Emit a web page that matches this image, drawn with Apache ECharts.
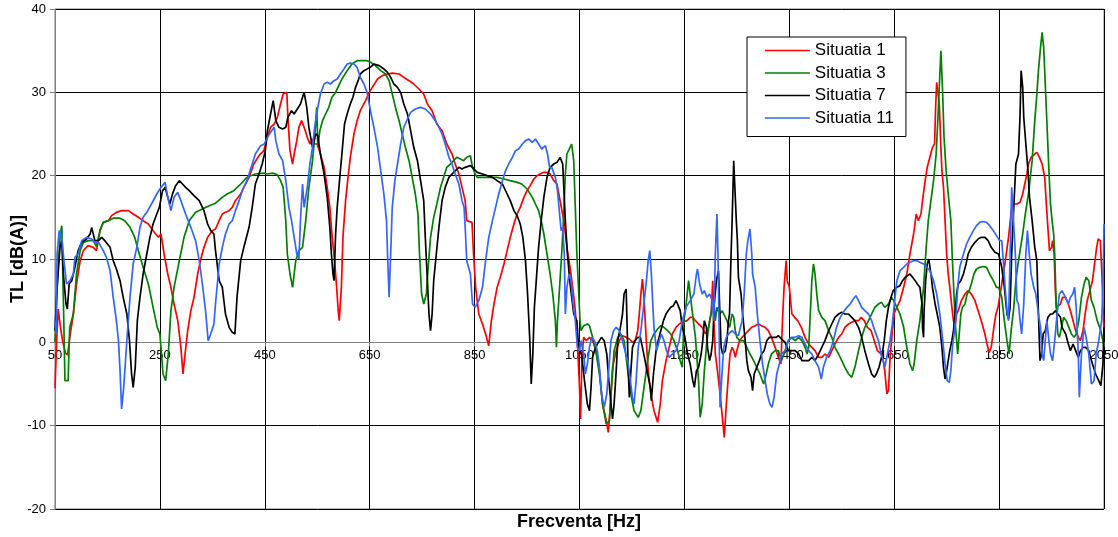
<!DOCTYPE html>
<html>
<head>
<meta charset="utf-8">
<script src="https://cdn.jsdelivr.net/npm/echarts@6/dist/echarts.min.js"></script>
<style>
  html, body { margin: 0; padding: 0; background: #fff; }
  #chart { width: 1118px; height: 537px; }
</style>
</head>
<body>
<div id="chart"></div>
<script>
// axa X: frecventa [Hz], axa Y: TL [dB(A)]
const xMin = 50, xMax = 2050, xStep = 200
const yMin = -20, yMax = 40, yStep = 10

const seriesNames = ['Situatia 1', 'Situatia 3', 'Situatia 7', 'Situatia 11']
const seriesColors = ['#ff0000', '#008000', '#000000', '#3366ff']

// [frecventa, TL]
const situatia1 = [[50,-5.5],[53,0],[56,4],[60,2],[65,0],[70,-1.3],[74,-1.5],[78,0.5],[85,3.4],[91,7],[98,9.8],[104,11],[113,11.6],[123,11.4],[129,11],[136,13.4],[142,14.4],[152,14.6],[158,15.2],[167,15.6],[177,15.8],[190,15.8],[199,15.4],[209,15],[218,14.6],[228,14.2],[237,13.4],[247,12.6],[252,13],[258,10.6],[265,8.2],[271,6.6],[277,4.6],[284,2.6],[290,-0.6],[294,-3.8],[298,-1.4],[303,1.4],[309,3.8],[315,5.4],[322,8.2],[328,10],[334,11.4],[341,12.6],[350,13.4],[356,13.6],[363,14.6],[369,15.4],[375,15.6],[382,15.8],[388,16.2],[394,17],[404,17.8],[410,18.6],[420,19.8],[429,21.4],[439,22.4],[448,23],[455,24.6],[461,25.8],[468,26.2],[474,27],[480,28.6],[485,29.8],[492,30],[494,27],[498,23],[503,21.4],[506,22.6],[511,24.2],[515,25.8],[520,26.6],[525,25.8],[531,24.6],[536,23.8],[541,24.4],[545,23.8],[550,23.8],[556,22.6],[563,21],[569,18.6],[574,16.2],[578,13],[583,9.8],[587,6.6],[590,3.8],[592,2.6],[596,6.6],[599,12.6],[604,17],[608,19.4],[613,22.2],[620,25],[626,26.6],[632,27.8],[642,29],[651,30.2],[655,30.6],[665,31.6],[674,32],[684,32.2],[693,32.3],[706,32.2],[715,31.8],[725,31.4],[734,31],[744,30.4],[753,29.8],[760,28.6],[769,27.8],[778,26.2],[788,25.4],[797,23.8],[807,22.6],[813,21.4],[820,20.2],[826,18.6],[832,17],[835,14.6],[845,14.4],[848,10.6],[852,6.6],[858,3.4],[865,2.2],[871,1],[877,-0.4],[882,2.6],[887,4.6],[893,6.6],[899,7.8],[906,9.4],[912,11],[918,12.6],[925,14.2],[931,15.4],[937,16.2],[944,17.4],[950,18.2],[956,18.8],[963,19.6],[969,20],[975,20.2],[982,20.4],[988,20.4],[994,20.2],[1001,19.4],[1007,19],[1013,17],[1020,14.6],[1026,11.4],[1032,9],[1037,6.6],[1042,3.8],[1046,0.2],[1050,-5.4],[1052,-9.2],[1055,-1.4],[1058,0.6],[1063,0.2],[1069,0.6],[1075,0.2],[1082,-1],[1088,-3.4],[1094,-7.4],[1101,-9.4],[1105,-10.8],[1109,-7.4],[1113,-3],[1120,-1],[1126,0.2],[1132,0.8],[1139,0.6],[1145,0.4],[1151,0],[1156,0.2],[1161,1.4],[1164,3.4],[1167,5.8],[1170,7.6],[1173,5.4],[1177,0.6],[1181,-3.4],[1186,-6.2],[1192,-8.2],[1199,-9.6],[1204,-7.4],[1208,-4.6],[1215,-2.2],[1221,-0.6],[1227,1],[1234,1.8],[1240,2.2],[1246,2.4],[1255,2.6],[1261,3],[1266,3],[1271,2.6],[1277,2.2],[1284,1.8],[1290,1],[1296,1.8],[1301,3.4],[1304,7.4],[1306,2.6],[1309,-1.4],[1313,-3.4],[1318,-6.2],[1323,-9.4],[1326,-11.4],[1330,-7.4],[1334,-3.8],[1337,-1.4],[1341,-0.6],[1344,-1],[1347,-1.8],[1350,-1],[1355,0.2],[1360,0.6],[1366,1],[1372,1.4],[1378,1.8],[1385,2],[1391,2.2],[1397,2],[1404,1.8],[1410,1.4],[1416,0.6],[1423,-0.6],[1429,-1.8],[1434,-2.6],[1437,2.6],[1440,6.6],[1444,9.8],[1446,7.4],[1450,6.6],[1455,3.4],[1460,3],[1466,2.6],[1473,1.8],[1480,0.6],[1487,-0.2],[1493,-0.6],[1499,-1],[1506,-1.8],[1512,-1.8],[1518,-1.4],[1525,-1.8],[1531,-1],[1537,-0.2],[1544,0.6],[1550,1],[1556,1.8],[1563,2.2],[1569,2.4],[1575,2.6],[1582,2.6],[1587,3],[1593,2.6],[1599,1.8],[1606,1.4],[1612,0.2],[1618,-1],[1625,-1.4],[1629,-2.2],[1632,-3.4],[1636,-6.2],[1639,-5.8],[1642,-2],[1646,1],[1650,3.5],[1655,4.2],[1661,5],[1668,6.6],[1674,8.2],[1680,10.6],[1687,13],[1692,15.4],[1696,14.6],[1701,15.4],[1704,17],[1709,19.4],[1713,21],[1718,22.2],[1723,23.4],[1727,23.8],[1729,28.2],[1731,31.2],[1734,31.4],[1736,28.6],[1739,23.4],[1741,20.6],[1744,18.6],[1747,14.6],[1750,10.6],[1753,8.2],[1756,6.6],[1760,4.2],[1763,2.6],[1766,1.8],[1769,3.4],[1772,3.8],[1778,5],[1785,5.8],[1791,6.2],[1797,5.8],[1804,5],[1810,3.8],[1816,2.6],[1823,1],[1827,-0.2],[1831,-1.2],[1835,-0.6],[1840,1.8],[1844,3.4],[1848,4.2],[1855,7],[1861,9.4],[1868,12.6],[1874,16.2],[1878,16.6],[1884,16.6],[1890,16.8],[1895,17.8],[1899,19],[1903,20.2],[1906,21.4],[1911,22.2],[1918,22.6],[1922,22.8],[1927,22.2],[1932,21.4],[1937,19.8],[1940,16.6],[1943,13.8],[1946,11],[1950,11.4],[1952,12.2],[1955,10.6],[1957,6.6],[1959,4.2],[1962,4.2],[1967,4.6],[1971,5.4],[1977,5.4],[1982,4.6],[1986,3.8],[1991,2.6],[1996,1.4],[2001,0.6],[2005,0.2],[2010,1.4],[2014,3.4],[2018,5],[2023,6.2],[2028,7.4],[2032,9.4],[2036,11.4],[2039,12.4],[2043,12.2],[2046,8.2],[2048,4.2],[2050,1.4]]

const situatia3 = [[50,0],[55,8],[60,13],[63,14],[66,5],[69,-4.6],[75,-4.6],[78,1.8],[85,3.4],[91,8.2],[98,11],[104,12],[113,12.2],[123,12.2],[129,11.5],[136,13.5],[142,14.4],[152,14.6],[161,14.9],[174,14.9],[183,14.6],[193,13.8],[202,12.6],[209,11],[218,9],[228,7],[237,4.2],[245,1.8],[250,1],[256,-3.8],[261,-4.6],[266,-1.4],[271,3.8],[277,6.6],[287,9.8],[296,12.6],[306,14.6],[318,15.6],[331,16],[344,16.4],[356,16.7],[369,17.4],[378,17.8],[391,18.2],[404,19],[416,19.8],[432,20.2],[448,20.3],[455,20.2],[465,20.3],[474,20.1],[480,19.4],[485,18.6],[490,14.6],[493,10.6],[498,8.2],[503,6.6],[506,8.2],[509,9.8],[515,11],[522,11.4],[528,14.6],[534,18.6],[541,21.8],[545,24.6],[549,28.2],[551,23.4],[555,25.4],[560,26.6],[566,27.4],[572,28.2],[578,29.4],[585,30],[591,30.8],[597,31.6],[607,32.6],[616,33.4],[626,33.8],[635,33.8],[645,33.8],[652,33.6],[661,33.2],[671,32.6],[680,32.2],[687,31.4],[693,29.8],[699,28.2],[706,26.6],[712,25],[718,23.4],[725,21.8],[731,19.8],[737,17.8],[742,15.4],[745,10.6],[749,5.8],[753,4.6],[758,5.8],[761,8.6],[766,12.6],[772,15],[778,16.6],[785,18.6],[791,19.8],[797,21],[804,21.4],[810,21.8],[816,22.2],[823,22],[829,21.8],[835,22.2],[842,22.4],[846,21],[851,20.2],[855,19.8],[868,19.8],[880,19.8],[893,19.8],[906,19.6],[918,19.4],[931,19.2],[940,19],[950,18.4],[960,17.4],[966,16.6],[972,15.8],[977,14.6],[982,13],[988,10.6],[994,8.2],[999,5.8],[1004,2.6],[1006,-0.6],[1008,2.6],[1012,6.6],[1016,10.6],[1020,15.4],[1023,20.2],[1026,22.6],[1032,23.4],[1035,23.8],[1039,21.8],[1042,16.2],[1045,10.6],[1048,6.6],[1051,2.6],[1053,1.4],[1058,2],[1065,2.2],[1069,2],[1075,0.6],[1082,-1.4],[1088,-3.8],[1094,-7.4],[1101,-9.8],[1107,-9.4],[1111,-5.4],[1116,-1],[1123,0.6],[1129,1],[1135,0.2],[1142,-3.4],[1148,-6.2],[1154,-8.2],[1162,-9],[1167,-8.2],[1173,-5.4],[1180,-2.2],[1186,0.2],[1192,1],[1199,1.6],[1205,2],[1211,1.8],[1218,1.4],[1224,1],[1230,0.2],[1237,-1],[1242,-2.2],[1246,-3],[1249,2.6],[1252,3.8],[1258,7.4],[1264,4.2],[1271,0.6],[1277,-4.6],[1280,-9],[1284,-7.4],[1288,-3.4],[1293,0.2],[1298,2.6],[1303,4.2],[1306,5],[1309,2.6],[1312,4.2],[1317,3.4],[1322,3.8],[1325,3.4],[1331,2.6],[1336,1.8],[1341,3.4],[1344,3],[1347,1.4],[1350,0.6],[1356,0.2],[1363,0.2],[1369,-0.6],[1375,-1.4],[1382,-2.2],[1388,-3],[1394,-3.8],[1401,-5],[1406,-3.8],[1410,-2.6],[1416,-1.4],[1423,-1],[1429,-1],[1435,-2.2],[1442,-1],[1448,0.2],[1454,0.6],[1461,0.2],[1468,0.6],[1474,0.2],[1480,-0.6],[1484,-1.4],[1487,-0.6],[1490,3.4],[1493,7.4],[1496,9.4],[1499,8.2],[1503,5.4],[1506,3.8],[1512,3],[1518,2.6],[1525,1.4],[1531,0.6],[1537,-0.6],[1544,-1.4],[1550,-2.2],[1556,-3],[1563,-3.8],[1569,-4.2],[1575,-3],[1582,-1],[1588,0.6],[1594,1.8],[1601,2.6],[1607,3.4],[1613,4.2],[1620,4.6],[1626,4.8],[1632,4.2],[1639,4.6],[1645,5.4],[1649,5],[1655,4.2],[1661,3.4],[1668,1.8],[1674,-0.6],[1680,-2.6],[1685,-3.4],[1688,-2.6],[1693,0.2],[1699,2.6],[1706,6.6],[1711,11.4],[1715,14.6],[1720,17],[1725,19.4],[1730,22.6],[1734,27.8],[1736,30.6],[1739,35],[1742,30.6],[1745,24.6],[1749,20.6],[1753,17.8],[1758,14.6],[1761,9.8],[1764,5.8],[1766,2.6],[1769,0.2],[1771,-1.4],[1774,1],[1777,3.4],[1780,4.2],[1785,4.6],[1789,5.8],[1793,6.2],[1797,7],[1802,8.2],[1807,8.8],[1813,9],[1820,9.1],[1826,9],[1832,8.2],[1839,7.4],[1845,6.6],[1849,6.6],[1855,5.4],[1860,2.6],[1865,0.2],[1869,-1.4],[1873,1.4],[1878,4.2],[1882,7.4],[1886,9.4],[1890,11],[1895,13],[1900,15.4],[1906,17.8],[1913,21.8],[1918,26.6],[1922,29.8],[1925,32.6],[1929,35.4],[1932,37.2],[1935,35.4],[1938,31],[1941,26.6],[1945,20.6],[1948,16.6],[1951,14.6],[1954,13],[1956,10.6],[1959,4.2],[1962,1],[1965,0.6],[1969,1.8],[1973,3],[1978,2.6],[1983,1.8],[1988,1],[1993,0.6],[1997,1],[2002,2.6],[2007,5.4],[2012,7],[2016,7.8],[2021,7.4],[2026,5],[2031,4.2],[2037,2.6],[2044,1.4],[2048,0.2],[2050,-0.6]]

const situatia7 = [[50,1.4],[54,6.6],[59.5,11.4],[63,12.2],[66,8.2],[71,4.6],[73.5,4],[77,7],[82,7.4],[88,9],[94,11],[101,12],[110,12.4],[117,13],[120,13.8],[126,12.2],[133,12.2],[139,12.6],[145,12.2],[155,11.4],[161,9.8],[167,8.8],[174,7.4],[180,5.4],[187,3.4],[192,0.2],[196,-3.8],[199,-5.4],[203,-3],[207,2.6],[212,5.4],[218,8.2],[225,10.6],[231,12.6],[237,14.2],[244,15.4],[249,16.2],[255,18.2],[260,18.6],[265,17.4],[269,16.6],[274,17.8],[280,18.8],[287,19.4],[293,19],[299,18.6],[306,18.2],[315,17.6],[325,17],[334,15.8],[341,14.2],[347,13.4],[353,13],[356,11],[363,7.4],[369,6.6],[375,3.4],[382,1.8],[388,1.2],[393,1],[397,5.4],[404,9.8],[410,11.4],[420,13.8],[426,16.2],[432,19],[439,20.2],[445,21.4],[451,23],[455,25.4],[461,27.4],[466,29],[471,26.6],[477,25.8],[484,25.6],[490,25.8],[494,27],[501,27.8],[506,27.4],[512,28],[518,28.6],[525,30],[530,28.2],[534,25.8],[541,23.4],[547,25],[551,24.8],[556,22.6],[563,20.2],[569,17.4],[574,13.8],[577,10.6],[580,8.2],[582,7.4],[585,13],[588,16.2],[593,19.8],[597,22.6],[602,26.2],[607,27.4],[613,28.6],[618,29.4],[623,30.6],[628,31.4],[632,32.2],[639,32.6],[645,32.8],[651,33],[658,33.4],[668,33.2],[677,32.8],[684,32.4],[690,31.8],[696,31],[703,30.6],[709,30],[715,28.6],[722,27.4],[728,25.4],[734,23.4],[741,21.8],[747,19.4],[753,17],[756,12.6],[760,7.4],[763,3.4],[766,1.4],[769,3.4],[772,7.4],[777,10.6],[782,13.8],[788,17],[794,18.6],[801,19.8],[810,20.4],[820,21],[826,20.8],[832,21],[842,21.2],[849,20.8],[855,20.4],[865,20.2],[874,20],[884,19.8],[893,19.4],[903,19],[912,17.8],[918,17],[925,15.8],[931,15.2],[937,14.2],[942,12.6],[947,9.8],[951,5.8],[955,0.6],[958,-5],[961,-1.4],[964,4.2],[968,7.8],[972,11.4],[977,14.6],[982,17.4],[988,19.8],[994,21],[1001,21.4],[1007,21.6],[1013,22.2],[1018,21.4],[1023,14.6],[1027,10.6],[1032,7],[1039,3.4],[1045,2.6],[1047,0.6],[1050,-1],[1054,-1.4],[1059.5,-4.6],[1065,-7.4],[1069,-8.2],[1072,-5.4],[1075,-1.8],[1078.5,-1],[1084,-0.2],[1088,0.2],[1092,0.6],[1097,0.2],[1102,-1.4],[1106,-4.6],[1110,-7.4],[1113,-9.2],[1116,-7.4],[1120,-3.4],[1123,0.2],[1128,1.8],[1132,3.4],[1135,5.8],[1139,6.4],[1140.5,2.6],[1143,-3.4],[1145,-6.6],[1148,-3.4],[1151,-0.6],[1156,0.2],[1161,0.6],[1166,0.6],[1170,-0.6],[1175,-2.2],[1180,-3.8],[1185,-5.4],[1187,-7],[1191,-3.8],[1196,-1],[1200,0.2],[1205,1.4],[1210,2.6],[1215,3.4],[1219,3.8],[1224,4.2],[1229,4.4],[1234,5],[1237,4.6],[1242,3.8],[1246,1.8],[1251,0.6],[1256,-1.4],[1261,-2.6],[1266,-4.6],[1269,-5.4],[1273,-3.4],[1277,-3],[1282,-1.4],[1285,0.2],[1288,2.6],[1292,1.8],[1294,-0.6],[1298,-2.2],[1301,-1.4],[1304,0.2],[1307,4.6],[1311,7.4],[1315,8.6],[1317,4.6],[1320,-0.6],[1323,-1.4],[1328,-1],[1331,0.2],[1334,2.6],[1336,3.4],[1339,10.6],[1341,14.6],[1344,21.8],[1347,21.8],[1349,14.6],[1351,12.2],[1353,7.8],[1358,5.8],[1361,3.4],[1366,0.2],[1369,-2.2],[1372,-3.4],[1377,-4.2],[1380,-5.8],[1383,-3.8],[1388,-3],[1393,-2.2],[1397,-1.4],[1402,-1],[1407,0.2],[1412,0.6],[1418,0.6],[1425,0.6],[1429,0.8],[1435,0.4],[1442,0],[1448,-1],[1454,-1],[1461,-1],[1468,-1.4],[1474,-2.2],[1480,-2.2],[1487,-2.2],[1493,-1.8],[1499,-2.2],[1506,-1.4],[1512,-0.6],[1518,0.2],[1525,1.4],[1531,2.2],[1537,3],[1544,3.4],[1550,3.6],[1556,3.4],[1563,3.4],[1569,3],[1575,2.6],[1582,1.8],[1588,0.6],[1594,-1],[1601,-2.6],[1607,-3.8],[1612,-4.2],[1616,-3.8],[1621,-3],[1626,-1.8],[1631,0.2],[1635,2.6],[1639,4.2],[1644,5.4],[1648,6.2],[1655,6.6],[1661,6.8],[1666,7.4],[1671,7.8],[1675,8],[1680,8.2],[1685,7.8],[1690,7.4],[1694,7],[1699,6.6],[1703,4.6],[1704,1.8],[1706,0.6],[1707,3.8],[1710,7.4],[1713,9.4],[1716,10],[1720,8.2],[1723,6.6],[1728,4.6],[1732,3.4],[1737,1.8],[1741,-0.6],[1744,-3],[1747,-4.4],[1750,-3.4],[1753,-2.2],[1756,-1],[1760,0.2],[1763,1.4],[1766,3.4],[1769,5.8],[1772,7],[1777,7.4],[1782,8.2],[1787,9.4],[1791,10.6],[1797,11.4],[1804,12],[1810,12.4],[1816,12.6],[1823,12.6],[1829,12.2],[1835,11.4],[1842,10.8],[1849,10.6],[1855,9],[1860,6.6],[1865,3.4],[1868,2.8],[1871,4.2],[1874,10.6],[1878,16.2],[1882,21.4],[1887,22.6],[1890,27.4],[1892,32.6],[1895,30.6],[1897,27],[1901,23.8],[1905,20.6],[1908,17.4],[1913,14.6],[1918,11.4],[1922,9.8],[1925,3.4],[1928,-2.2],[1931,-1.4],[1934,1],[1938,1.4],[1943,3],[1948,3.4],[1952,3.4],[1957,3.8],[1962,3.4],[1967,3],[1970,1.8],[1977,1],[1982,-0.2],[1986,-1],[1991,-0.2],[1996,-1],[2001,-1.8],[2005,-1],[2010,-0.6],[2015,-0.6],[2021,-1],[2028,-2.6],[2034,-3.8],[2040,-4.6],[2044,-5.2],[2048,-2.6],[2050,1.8]]

const situatia11 = [[50,2.6],[52,1],[54,10.6],[58,13.4],[63,12.6],[67,9.8],[72,7],[78.6,7.4],[85,8.2],[88,10.2],[94,10.6],[101,12.2],[110,12.6],[120,12.4],[126,12],[133,12],[142,11],[148,10.2],[155,8.6],[161,5.4],[167,2.6],[171,0.2],[174,-3.4],[177,-8],[181,-5.4],[187,0.2],[193,5.4],[199,9.4],[206,11.4],[212,13.8],[218,15],[225,15.6],[234,16.6],[244,17.8],[252,18.6],[260,19.2],[265,17.4],[271,15.8],[277,17.4],[284,18],[290,17],[299,15.4],[309,13.8],[318,12.2],[325,9.8],[331,7],[337,3.8],[342,0.2],[347,1],[353,2.2],[356,4.6],[363,9.4],[369,11.4],[375,13],[382,14.2],[388,14.6],[394,15.8],[401,17],[407,18.2],[416,19.4],[426,21.4],[432,22.6],[442,23.6],[449,23.8],[455,24.6],[461,25.2],[468,25.8],[471,24.2],[477,22.6],[484,21.8],[490,19.4],[496,16.2],[501,14.6],[506,12.6],[511,10.6],[515,10],[518,14.6],[522,19],[525,16.2],[528,17.4],[531,18.6],[536,21.4],[541,23.4],[545,25.8],[550,27.8],[556,29.8],[563,31],[569,31.2],[575,31],[582,31.4],[588,31.6],[594,32.2],[601,32.8],[607,33.4],[613,33.5],[620,33.4],[626,33],[632,31.8],[639,31],[645,30],[652,27.6],[658,25.8],[665,23.4],[671,20.6],[677,17.8],[682,14.6],[684,10.6],[687,5.4],[690,10.6],[693,16.2],[698,19.4],[703,21.4],[709,23.8],[715,25.8],[722,26.8],[728,27.6],[737,28],[747,28.2],[756,28],[766,27.4],[775,26.6],[782,25.8],[788,25],[794,23.8],[801,22.2],[807,21.4],[813,20.2],[820,19],[826,17],[830,16.2],[832,13.8],[835,9.8],[842,8.2],[846,4.6],[851,4.2],[858,5],[865,6.6],[871,9.8],[877,12.6],[884,14.6],[890,16.2],[896,17.8],[903,19.4],[909,20.6],[915,21.4],[922,22.2],[928,23],[934,23.2],[941,23.8],[947,24.2],[953,24.4],[960,24],[966,24.4],[972,23.8],[978,23.2],[985,23.6],[989,22.6],[993,21],[997,21],[1004,19.8],[1008,18.2],[1012,15.4],[1015,13.4],[1018,13.8],[1021,10.6],[1023,3.4],[1026,6.6],[1030,8.2],[1034,7.4],[1037,5],[1042,2.6],[1046,-0.6],[1050,-1],[1053,0.2],[1058,-1.4],[1061,-3.8],[1065,-2.6],[1069,-0.6],[1073,0.6],[1078.5,0.2],[1084,-1],[1088,-3],[1092,-6.2],[1097,-7.8],[1102,-6.2],[1106,-3],[1110,0.2],[1115,1.4],[1120,1.8],[1126,1.4],[1130,0.6],[1135,-0.6],[1142,-2.2],[1147,-4.6],[1151,-6.6],[1154,-7.4],[1158,-4.6],[1162,-0.6],[1167,1.4],[1172,4.2],[1177,7],[1181,9.8],[1184,11],[1187,8.2],[1190,4.2],[1192,1.8],[1197,-1],[1202,0.2],[1206,1],[1211,0.2],[1216,-1],[1221,-1.8],[1227,-1.4],[1234,-1],[1240,0.2],[1246,2.6],[1253,4.2],[1261,5],[1268,5.8],[1273,8.2],[1275,8.8],[1279,7],[1284,5.8],[1288,6.2],[1293,5.4],[1298,5.8],[1303,5],[1306,2.6],[1309,10.6],[1312,15.4],[1314,10.6],[1316,2.6],[1318,-7.8],[1322,-3.4],[1325,-0.6],[1330,0.6],[1334,1],[1341,1.4],[1347,1],[1353,0.8],[1360,2.6],[1364,5.8],[1368,10.6],[1371,12.2],[1375,13.6],[1378.5,10.6],[1380,8.2],[1385,6.6],[1389,3.4],[1394,0.2],[1399,-2.6],[1404,-4.6],[1408,-6.2],[1413,-7.4],[1417,-7.8],[1421,-6.6],[1426,-3.8],[1431,-2.6],[1435,-1.4],[1442,-1],[1448,0.2],[1455,0.6],[1461,0.6],[1468,0.8],[1474,0.6],[1480,-0.2],[1487,-1],[1493,-1.4],[1499,-2.2],[1506,-3],[1511,-4.4],[1515,-3],[1521,-1.8],[1528,-1],[1534,0.2],[1540,1.8],[1547,3],[1553,3.6],[1560,4.2],[1566,4.6],[1572,5.2],[1577,5.6],[1582,5],[1588,4.2],[1594,3.8],[1601,3.4],[1607,2.6],[1613,1.4],[1620,0.2],[1625,-1.4],[1629,-2.2],[1632,-3],[1637,-1.4],[1642,0.2],[1646,2],[1651,5],[1655,7.4],[1661,8.6],[1668,9],[1674,9.4],[1680,9.6],[1687,9.8],[1693,9.8],[1699,9.6],[1706,9.4],[1712,9],[1718,8.6],[1725,7.4],[1731,5.8],[1737,3.4],[1742,0.6],[1747,-2.6],[1751,-4.6],[1755,-4.8],[1758,-3.4],[1761,-0.6],[1765,1.4],[1768,3.4],[1771,6.6],[1775,9],[1782,10.6],[1788,11.8],[1794,12.6],[1801,13.4],[1807,14],[1813,14.4],[1820,14.5],[1826,14.4],[1832,14],[1839,13.4],[1845,12.8],[1851,12.2],[1855,12.2],[1858,9.8],[1861.5,6.6],[1865,3.8],[1868,2.6],[1871,10.6],[1874,18.6],[1877.5,14.6],[1881,10.6],[1884,5],[1887,4.6],[1890,2.6],[1893,1],[1897,4.6],[1901,10.6],[1904,13.4],[1907.5,10.6],[1911,8.2],[1916,6.6],[1920,5.8],[1925,3.4],[1929,1.8],[1932,-1.4],[1935,-2.2],[1938,0.2],[1941,2.6],[1945,0.2],[1948,-1.4],[1952,-2.2],[1956,0.2],[1960.5,3.4],[1965,5.8],[1970,6.2],[1976.5,5.4],[1982,4.6],[1986,5.4],[1990.5,5.8],[1994,6.6],[1997,4.2],[2001,-1.4],[2003,-6.6],[2007,-1.4],[2012,1.8],[2016,0.6],[2021,-1.4],[2026,-5],[2031,-4.6],[2035,-1.4],[2040,0.2],[2045.5,2.6],[2048,6.6],[2050,14.2]]

const seriesData = [situatia1, situatia3, situatia7, situatia11]

const fontFamily = '"Liberation Sans", Arial, sans-serif'

const gridTop = 9, gridBottom = 28, chartHeight = 537
// axa X trece prin y = 0: deplasare fata de marginea de jos a gridului
const plotHeight = chartHeight - gridTop - gridBottom
const xAxisOffset = -plotHeight * (0 - yMin) / (yMax - yMin)

const chart = echarts.init(document.getElementById('chart'))

const option = {
    animation: false,
    backgroundColor: '#fff',
    textStyle: { fontFamily },
    grid: {
        left: 55,
        right: 14,
        top: gridTop,
        bottom: gridBottom,
        show: true,
        borderColor: '#808080',
        borderWidth: 1,
        containLabel: false,
        outerBoundsMode: 'none'
    },
    legend: {
        orient: 'vertical',
        left: 747,
        top: 37,
        padding: [5, 12, 10, 17],
        itemGap: 5.5,
        itemWidth: 45,
        itemHeight: 17,
        backgroundColor: '#fff',
        borderColor: '#000',
        borderWidth: 1,
        borderRadius: 0,
        itemStyle: { opacity: 0 },
        lineStyle: { width: 1.7 },
        textStyle: { fontSize: 17, color: '#000', fontFamily },
        data: seriesNames
    },
    xAxis: {
        type: 'value',
        min: xMin,
        max: xMax,
        interval: xStep,
        position: 'bottom',
        offset: xAxisOffset,
        axisLine: { show: true, onZero: false, lineStyle: { color: '#808080', width: 1 } },
        axisTick: { show: true, length: 4, lineStyle: { color: '#808080' } },
        axisLabel: { color: '#000', fontSize: 13, margin: 7, fontFamily, formatter: v => String(v) },
        splitLine: { show: true, lineStyle: { color: '#000', width: 1 } }
    },
    yAxis: {
        type: 'value',
        min: yMin,
        max: yMax,
        interval: yStep,
        axisLine: { show: true, lineStyle: { color: '#808080', width: 1 } },
        axisTick: { show: true, length: 5, lineStyle: { color: '#808080' } },
        axisLabel: { color: '#000', fontSize: 13, margin: 9, fontFamily, formatter: v => String(v) },
        splitLine: { show: true, lineStyle: { color: '#000', width: 1 } }
    },
    graphic: [
        {
            type: 'text',
            x: 579,
            y: 522,
            style: {
                text: 'Frecventa [Hz]',
                fontSize: 18,
                fontWeight: 'bold',
                fontFamily,
                fill: '#000',
                align: 'center',
                verticalAlign: 'middle'
            }
        },
        {
            type: 'text',
            x: 18,
            y: 259,
            rotation: Math.PI / 2,
            style: {
                text: 'TL [dB(A)]',
                fontSize: 18,
                fontWeight: 'bold',
                fontFamily,
                fill: '#000',
                align: 'center',
                verticalAlign: 'middle'
            }
        }
    ],
    series: seriesNames.map((name, i) => ({
        name,
        type: 'line',
        data: seriesData[i],
        symbol: 'none',
        showSymbol: false,
        clip: true,
        color: seriesColors[i],
        lineStyle: { color: seriesColors[i], width: 1.7 },
        z: 2 + i
    }))
}

chart.setOption(option)
</script>
</body>
</html>
